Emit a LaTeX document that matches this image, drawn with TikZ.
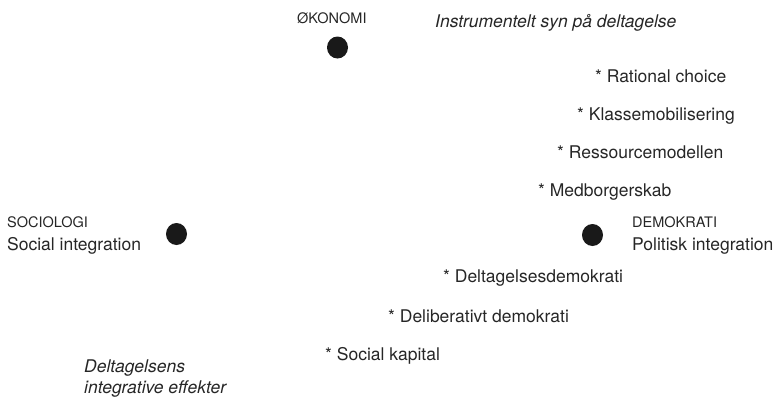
\documentclass[tikz,border=0pt]{standalone}
\usepackage{fontspec}
\setmainfont{TeX Gyre Heros}
\usetikzlibrary{shapes.geometric}
\tikzstyle{prik}=[draw=none, fill=black!90, ellipse, inner sep=0pt,
  minimum width=21pt, minimum height=22pt]
\tikzstyle{fag}=[anchor=base west, inner sep=0pt, text=black!85,
  font=\fontsize{14.5}{17}\selectfont]
\tikzstyle{felt}=[anchor=base west, inner sep=0pt, text=black!85,
  font=\fontsize{17.5}{21}\selectfont]
\tikzstyle{syn}=[felt, font=\fontsize{17.5}{21}\selectfont\itshape,
  align=left]
\newcommand{\teori}[3]{node (t#1) [felt] at (#2) {* #3}}
\newcommand{\pol}[4]{node (d#1) [prik] at (#2) {}
  (#3) node (f#1) [fag] {#4}}

\begin{document}
\begin{tikzpicture}[x=1pt,y=-1pt]
\useasboundingbox (0,0) rectangle (779,402);

  % Draw the three poles
\path \pol{1}{337.5,47.5}{297,23}{ØKONOMI};
\path \pol{2}{176.5,234}{7,227}{SOCIOLOGI};
\path \pol{3}{592.5,235}{632,227}{DEMOKRATI};
\node (i2) [felt] at (7,250) {Social integration};
\node (i3) [felt] at (632,250) {Politisk integration};

  % Perspectives on participation
\node (s1) [syn] at (435,27) {Instrumentelt syn på deltagelse};
\node (s2) [syn] at (84,393) {Deltagelsens\\integrative effekter};

  % Theories, top right
\path \teori{1}{595,82}{Rational choice};
\path \teori{2}{577,120}{Klassemobilisering};
\path \teori{3}{557,158}{Ressourcemodellen};
\path \teori{4}{538,196}{Medborgerskab};
  % Theories, bottom
\path \teori{5}{443,282}{Deltagelsesdemokrati};
\path \teori{6}{388,322}{Deliberativt demokrati};
\path \teori{7}{325,360}{Social kapital};
\end{tikzpicture}
\end{document}
